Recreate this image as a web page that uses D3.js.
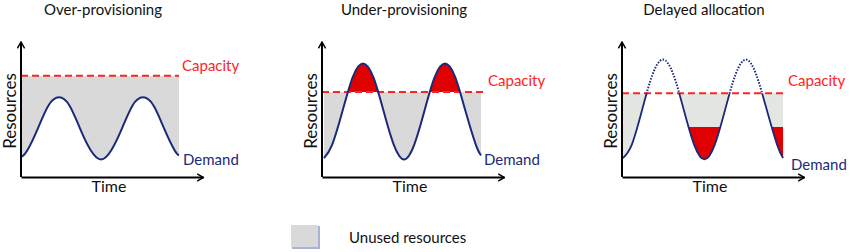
<!DOCTYPE html><meta charset="utf-8"><style>
    body { margin: 0; background: #fff; }
    svg { font-family: Lato, "Open Sans", sans-serif; }
    .axis .domain { stroke: #000; stroke-width: 2; }
</style><svg width="850" height="252"></svg><script src="https://cdn.jsdelivr.net/npm/d3@7"></script><script>

    var width = 850, height = 252;

    // titles of the three panels
    var titles = ["Over-provisioning", "Under-provisioning", "Delayed allocation"];

    // demand curves, [time, resources] on a 0-100 scale
    var demandOver = [[0.5,15],[3.6,20],[9.3,36],[15.1,53],[20.9,59],[26.6,53],[32.4,36],[38.2,20],[44,13],
        [49.7,20],[55.5,36],[61.3,53],[67,59],[72.8,53],[78.6,36],[84.3,20],[86.8,16]];
    var demandUnder = [[1.1,14],[5.6,24],[11.3,49],[16.9,74],[22.5,84],[28.2,74],[33.8,49],[39.4,24],[45.1,13],
        [50.7,24],[56.3,49],[61.9,74],[67.6,84],[73.2,74],[78.8,49],[84.5,24],[87.4,16]];
    var demandDelayed = [[0.5,14],[5.4,24],[11.1,50],[16.8,76],[22.5,87],[28.2,76],[33.9,50],[39.6,24],[45.3,13],
        [51,24],[56.7,50],[62.4,76],[68.1,87],[73.7,76],[79.5,50],[85.2,24],[88.5,14]];

    var capacity = [75, 63, 62];     // capacity level per panel
    var capEnd = [86.8, 88.5, 88.5]; // time where capacity line ends
    var delayedFloor = 37;           // lowered allocation in delayed panel

    var originX = [21, 322, 622], originY = 177;
    var axisW = 182, axisH = 135;

    var navy = "#1b2a78", red = "#ff2424", redFill = "#e00000";

    const svg = d3.select("svg");

    var defs = svg.append("defs");
    defs.append("marker")
        .attr("id", "arrow")
        .attr("markerUnits", "userSpaceOnUse")
        .attr("viewBox", "0 0 10 10")
        .attr("refX", 9).attr("refY", 5)
        .attr("markerWidth", 9).attr("markerHeight", 9)
        .attr("orient", "auto")
        .append("path")
        .attr("d", "M2,1L9,5L2,9")
        .attr("fill", "none")
        .attr("stroke", "#000")
        .attr("stroke-width", 1.6);

    var demands = [demandOver, demandUnder, demandDelayed];
    var capLabelY = [71, 86, 86], demandLabelY = [165, 165, 170];
    var capLabelX = [182, 488, 788], demandLabelX = [183, 484, 791];
    var greys = ["#d9d9d9", "#d9d9d9", "#e4e6e1"];

    demands.forEach(function(data, i) {
        var x = d3.scaleLinear().domain([0, 100]).range([0, axisW]);
        var y = d3.scaleLinear().domain([0, 100]).range([axisH, 0]);
        var cap = capacity[i];

        var g = svg.append("g").attr("transform", `translate(${originX[i]},${originY - axisH})`);

        // clip regions
        var below = defs.append("clipPath").attr("id", "below" + i);
        below.append("rect").attr("x", 0).attr("y", y(cap)).attr("width", axisW).attr("height", axisH);
        var above = defs.append("clipPath").attr("id", "above" + i);
        above.append("rect").attr("x", 0).attr("y", -20).attr("width", axisW).attr("height", y(cap) + 20);

        var area = d3.area()
            .x(d => x(d[0]))
            .y0(y(cap))
            .y1(d => y(d[1]))
            .curve(d3.curveNatural);

        var line = d3.line()
            .x(d => x(d[0]))
            .y(d => y(d[1]))
            .curve(d3.curveNatural);

        // unused resources
        g.append("path")
            .datum(data)
            .attr("d", area)
            .attr("fill", greys[i])
            .attr("clip-path", `url(#below${i})`);

        if (i == 1) {
            g.append("path")
                .datum(data)
                .attr("d", area)
                .attr("fill", redFill)
                .attr("clip-path", `url(#above${i})`);
        }

        if (i == 2) {
            var low = defs.append("clipPath").attr("id", "low" + i);
            low.append("rect").attr("x", x(30)).attr("y", y(delayedFloor))
                .attr("width", axisW).attr("height", axisH);
            g.append("path")
                .datum(data)
                .attr("d", d3.area().x(d => x(d[0])).y0(y(delayedFloor)).y1(d => y(d[1])).curve(d3.curveNatural))
                .attr("fill", redFill)
                .attr("clip-path", `url(#low${i})`);
        }

        // capacity line
        g.append("line")
            .attr("x1", x(0)).attr("x2", x(capEnd[i]))
            .attr("y1", y(cap)).attr("y2", y(cap))
            .attr("stroke", red)
            .attr("stroke-width", 2)
            .attr("stroke-dasharray", "7,4");

        // demand curve
        if (i == 2) {
            g.append("path").datum(data).attr("d", line)
                .attr("fill", "none").attr("stroke", navy).attr("stroke-width", 1.8)
                .attr("clip-path", `url(#below${i})`);
            g.append("path").datum(data).attr("d", line)
                .attr("fill", "none").attr("stroke", navy).attr("stroke-width", 2)
                .attr("stroke-dasharray", "1.5,1.5")
                .attr("clip-path", `url(#above${i})`);
        } else {
            g.append("path").datum(data).attr("d", line)
                .attr("fill", "none").attr("stroke", navy).attr("stroke-width", 2);
        }

        // axes with arrows
        g.append("g")
            .attr("class", "axis")
            .attr("transform", `translate(0,${axisH})`)
            .call(d3.axisBottom(x).ticks(0).tickSizeOuter(0))
            .select(".domain").attr("marker-end", "url(#arrow)");
        g.append("g")
            .attr("class", "axis")
            .call(d3.axisLeft(y).ticks(0).tickSizeOuter(0))
            .select(".domain")
            .attr("d", `M0,${axisH}V0`)
            .attr("marker-end", "url(#arrow)");

        // labels
        svg.append("text")
            .attr("x", originX[i] + 82).attr("y", 15)
            .attr("text-anchor", "middle")
            .attr("font-size", 15).attr("fill", "#111")
            .text(titles[i]);
        svg.append("text")
            .attr("transform", `translate(${originX[i] - 5},${originY - 66}) rotate(-90)`)
            .attr("text-anchor", "middle")
            .attr("font-size", 17).attr("fill", "#111")
            .text("Resources");
        svg.append("text")
            .attr("x", originX[i] + 88).attr("y", 192)
            .attr("text-anchor", "middle")
            .attr("font-size", 16).attr("fill", "#111")
            .text("Time");
        svg.append("text")
            .attr("x", capLabelX[i]).attr("y", capLabelY[i])
            .attr("font-size", 15).attr("fill", red)
            .text("Capacity");
        svg.append("text")
            .attr("x", demandLabelX[i]).attr("y", demandLabelY[i])
            .attr("font-size", 15).attr("fill", navy)
            .text("Demand");
    });

    // legend
    svg.append("rect")
        .attr("x", 292).attr("y", 226).attr("width", 28).attr("height", 23)
        .attr("fill", "#a9b3d8");
    svg.append("rect")
        .attr("x", 291).attr("y", 225).attr("width", 27).attr("height", 22)
        .attr("fill", "#d9d9d9");
    svg.append("text")
        .attr("x", 349).attr("y", 243)
        .attr("font-size", 15).attr("fill", "#111")
        .text("Unused resources");

</script>
